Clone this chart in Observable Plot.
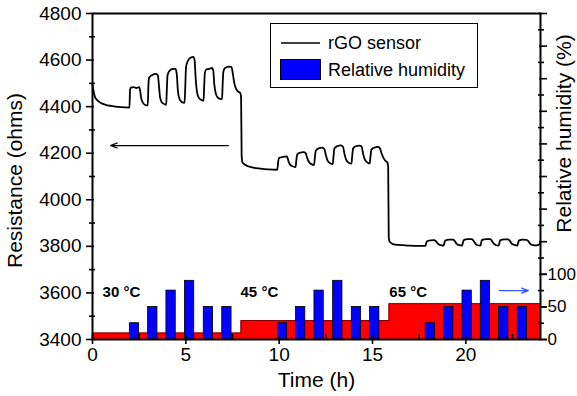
<!DOCTYPE html>
<html><head><meta charset="utf-8">
<script src="https://cdn.jsdelivr.net/npm/d3@7"></script>
<script src="https://cdn.jsdelivr.net/npm/@observablehq/plot@0.6"></script>
<style>
body{margin:0;background:#fff;font-family:Arial,"Liberation Sans",sans-serif;}
#wrap{position:relative;width:577px;height:396px;overflow:hidden;}
#legend{position:absolute;left:270px;top:23px;}
</style></head><body><div id="wrap"></div>
<script>
// rGO sensor resistance (ohms) vs time (h)
const timeH = [
  0, 0.05, 0.12, 0.25, 0.45, 0.7, 1.0, 1.5, 1.98,
  2.01, 2.05, 2.2, 2.35, 2.5, 2.55, 2.6, 2.68, 2.8, 2.96,
  3.0, 3.04, 3.2, 3.4, 3.5, 3.56, 3.62, 3.72, 3.9, 3.95,
  3.98, 4.02, 4.12, 4.3, 4.45, 4.52, 4.57, 4.65, 4.78, 4.93,
  4.97, 5.01, 5.1, 5.25, 5.4, 5.47, 5.52, 5.6, 5.7, 5.85, 5.95,
  5.98, 6.02, 6.1, 6.25, 6.4, 6.47, 6.52, 6.6, 6.7, 6.85, 6.94,
  6.97, 7.01, 7.1, 7.3, 7.45, 7.52, 7.6, 7.7, 7.8, 7.92,
  7.96, 7.99, 8.03, 8.1, 8.3, 8.6, 9.0, 9.4, 9.9,
  9.95, 10.0, 10.2, 10.4, 10.45, 10.5, 10.6, 10.75, 10.88,
  10.92, 10.97, 11.1, 11.3, 11.42, 11.5, 11.6, 11.75, 11.87,
  11.91, 11.96, 12.1, 12.3, 12.42, 12.5, 12.6, 12.75, 12.87,
  12.91, 12.96, 13.1, 13.3, 13.42, 13.5, 13.6, 13.75, 13.87,
  13.91, 13.96, 14.1, 14.3, 14.42, 14.5, 14.6, 14.75, 14.85,
  14.89, 14.94, 15.1, 15.3, 15.4, 15.5, 15.6, 15.7, 15.8,
  15.84, 15.87, 15.92, 16.1, 16.4, 17.0, 17.5, 17.84,
  17.87, 17.92, 18.1, 18.3, 18.4, 18.5, 18.6, 18.8,
  18.85, 18.9, 19.1, 19.3, 19.4, 19.5, 19.6, 19.8,
  19.84, 19.89, 20.1, 20.3, 20.4, 20.5, 20.6, 20.78,
  20.82, 20.87, 21.1, 21.3, 21.38, 21.48, 21.6, 21.76,
  21.8, 21.85, 22.05, 22.25, 22.35, 22.45, 22.6, 22.76,
  22.8, 22.85, 23.05, 23.25, 23.35, 23.45, 23.6, 23.8, 24
];
const resistance = [
  4495, 4470, 4445, 4428, 4416, 4408, 4403, 4398, 4396,
  4470, 4482, 4484, 4480, 4484, 4470, 4440, 4420, 4408, 4405,
  4500, 4525, 4536, 4541, 4535, 4490, 4440, 4418, 4409, 4408,
  4470, 4535, 4553, 4562, 4562, 4535, 4472, 4435, 4420, 4416,
  4485, 4570, 4595, 4610, 4614, 4600, 4530, 4462, 4437, 4428, 4426,
  4480, 4545, 4560, 4562, 4566, 4555, 4500, 4458, 4440, 4433, 4432,
  4490, 4550, 4566, 4572, 4570, 4540, 4500, 4475, 4465, 4458,
  4440, 4190, 4162, 4155, 4145, 4138, 4134, 4131, 4129,
  4165, 4180, 4184, 4186, 4180, 4165, 4150, 4143, 4140,
  4170, 4195, 4202, 4205, 4200, 4180, 4162, 4152, 4149,
  4180, 4210, 4220, 4224, 4218, 4192, 4167, 4156, 4153,
  4185, 4220, 4230, 4234, 4228, 4196, 4170, 4158, 4155,
  4185, 4220, 4230, 4233, 4228, 4196, 4171, 4159, 4156,
  4185, 4215, 4224, 4227, 4220, 4196, 4178, 4167, 4160,
  4140, 3840, 3820, 3810, 3806, 3803, 3802, 3802,
  3812, 3822, 3826, 3827, 3822, 3812, 3806, 3803,
  3814, 3825, 3829, 3829, 3824, 3812, 3806, 3803,
  3815, 3827, 3831, 3831, 3826, 3813, 3806, 3803,
  3815, 3828, 3831, 3831, 3826, 3813, 3806, 3803,
  3815, 3827, 3830, 3830, 3825, 3812, 3806, 3803,
  3814, 3826, 3829, 3828, 3822, 3811, 3805, 3804, 3812
];
// relative humidity pulses (start time in h, RH in %)
const rhStart = [2.0, 2.98, 3.96, 4.95, 5.96, 6.95, 9.93, 10.9, 11.89, 12.89, 13.89, 14.87, 17.85, 18.83, 19.82, 20.8, 21.78, 22.78];
const rhValue = [25, 50, 75, 90, 50, 50, 25, 50, 75, 90, 50, 50, 25, 50, 75, 90, 50, 50];
// temperature step (drawn on RH axis units)
const tempStepTime = [0, 7.95, 15.88, 24];
const tempStepLevel = [10, 29, 55, 55];
const tempLabels = ["30 °C", "45 °C", "65 °C"];
const tempLabelTime = [0.54, 7.93, 15.9];
const tempLabelRH = [72, 72, 73];
// arrows
const arrowX1 = [7.28, 21.8];
const arrowX2 = [0.96, 23.35];
const arrowLevel = [4233, 3610];
const arrowColor = ["#000000", "#3355ff"];
// ticks
const xTicks = [0, 5, 10, 15, 20];
const xMinor = [2.5, 7.5, 12.5, 17.5, 22.5];
const yTicks = [3400, 3600, 3800, 4000, 4200, 4400, 4600, 4800];
const yMinor = [3500, 3700, 3900, 4100, 4300, 4500, 4700];
const rhTickLabels = [0, 50, 100];
const rhMajor = [0, 50, 100, 150, 200, 250, 300, 350, 400, 450, 500];
const rhMinor = [25, 75, 125, 175, 225, 275, 325, 375, 425, 475];

const rhMax = 500, rMin = 3400, rMax = 4800;
const rhToOhm = v => rMin + v * (rMax - rMin) / rhMax;
const ohmToRh = r => Math.round((r - rMin) * rhMax / (rMax - rMin));

const curve = timeH.map((t, i) => ({t, r: resistance[i]}));
const bars = rhStart.map((t, i) => ({t, v: rhValue[i]}));
const steps = tempStepTime.map((t, i) => ({t, v: tempStepLevel[i]}));
const tLabels = tempLabels.map((s, i) => ({s, t: tempLabelTime[i], v: tempLabelRH[i]}));
const arrows = arrowX1.map((x1, i) => ({x1, x2: arrowX2[i], y: arrowLevel[i], c: arrowColor[i]}));
const blank = () => "";

const chart = Plot.plot({
  width: 577, height: 396,
  marginLeft: 92, marginRight: 37, marginTop: 13, marginBottom: 57,
  style: {fontFamily: "Arial, 'Liberation Sans', sans-serif", background: "white", color: "black"},
  x: {domain: [0, 24]},
  y: {domain: [rMin, rMax]},
  marks: [
    Plot.areaY(steps, {x: "t", y1: rMin, y2: d => rhToOhm(d.v), curve: "step-after", fill: "#ff0000"}),
    Plot.line(steps, {x: "t", y: d => rhToOhm(d.v), curve: "step-after", stroke: "#500", strokeWidth: 0.8}),
    Plot.rect(bars, {x1: "t", x2: d => d.t + 0.5, y1: rMin, y2: d => rhToOhm(d.v), fill: "#0000ff", stroke: "#000", strokeWidth: 0.8}),
    Plot.line(curve, {x: "t", y: "r", stroke: "black", strokeWidth: 1.8, curve: "monotone-x"}),
    Plot.text(tLabels, {x: "t", y: d => rhToOhm(d.v), text: "s", textAnchor: "start", fontWeight: "bold", fontSize: 15}),
    Plot.arrow(arrows, {x1: "x1", x2: "x2", y1: "y", y2: "y", stroke: "c", strokeWidth: 1.2, headLength: 9, headAngle: 40}),
    Plot.frame({strokeWidth: 2}),
    // left axis
    Plot.axisY({ticks: yTicks, tickSize: 6, tickPadding: 5, fontSize: 19, tickFormat: d3.format("d"), label: null, strokeWidth: 1.6}),
    Plot.axisY({ticks: yTicks, tickSize: 2, dx: 2, tickFormat: blank, label: null, strokeWidth: 1.6}),
    Plot.axisY({ticks: yMinor, tickSize: 6, dx: 3, tickFormat: blank, label: null, strokeWidth: 1.6}),
    // right axis
    Plot.axisY({anchor: "right", ticks: rhTickLabels.map(rhToOhm), tickFormat: d => ohmToRh(d), tickSize: 6, tickPadding: 1, fontSize: 17, label: null, strokeWidth: 1.6}),
    Plot.axisY({anchor: "right", ticks: rhMajor.map(rhToOhm), tickSize: 8, dx: -2, tickFormat: blank, label: null, strokeWidth: 1.6}),
    Plot.axisY({anchor: "right", ticks: rhMinor.map(rhToOhm), tickSize: 6, dx: -3, tickFormat: blank, label: null, strokeWidth: 1.6}),
    // bottom axis
    Plot.axisX({ticks: xTicks, tickSize: 5, tickPadding: 3, fontSize: 19, label: null, strokeWidth: 1.6}),
    Plot.axisX({ticks: xTicks, tickSize: 4, dy: -4, tickFormat: blank, label: null, strokeWidth: 1.6}),
    Plot.axisX({ticks: xMinor, tickSize: 5, dy: -5, tickFormat: blank, label: null, strokeWidth: 1.6}),
    // axis titles
    Plot.text(["Resistance (ohms)"], {frameAnchor: "left", textAnchor: "middle", dx: -77, dy: 4, rotate: -90, fontSize: 21}),
    Plot.text(["Relative humidity (%)"], {frameAnchor: "right", textAnchor: "middle", dx: 24, dy: -43, rotate: -90, fontSize: 21}),
    Plot.text(["Time (h)"], {frameAnchor: "bottom", textAnchor: "middle", dy: 47, fontSize: 21})
  ]
});
document.getElementById("wrap").appendChild(chart);

// legend
const legendNames = ["rGO sensor", "Relative humidity"];
const lg = d3.create("svg").attr("id", "legend").attr("width", 209).attr("height", 66)
  .style("font-family", "Arial, 'Liberation Sans', sans-serif");
lg.append("rect").attr("x", 0.5).attr("y", 0.5).attr("width", 207).attr("height", 64).attr("fill", "white").attr("stroke", "black");
lg.append("line").attr("x1", 11).attr("x2", 50).attr("y1", 20).attr("y2", 20).attr("stroke", "black").attr("stroke-width", 1.5);
lg.append("rect").attr("x", 10.5).attr("y", 36.5).attr("width", 40).attr("height", 20).attr("fill", "#0000ff").attr("stroke", "black");
lg.selectAll("text.n").data(legendNames).join("text").attr("class", "n")
  .attr("x", 58).attr("y", (d, i) => i === 0 ? 20 : 47).attr("dy", "0.35em").attr("font-size", 18).text(d => d);
document.getElementById("wrap").appendChild(lg.node());
</script></body></html>
